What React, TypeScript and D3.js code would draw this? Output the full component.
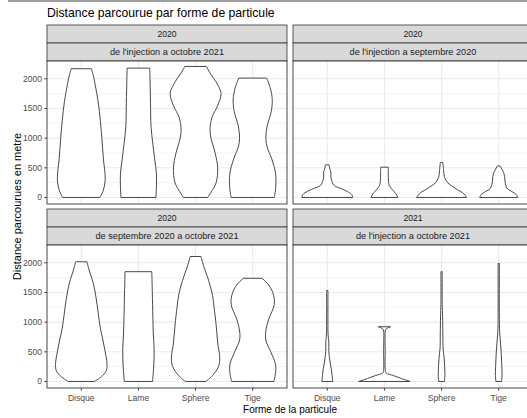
import React from "react";
import * as d3 from "d3";

const categories = ["Disque", "Lame", "Sphere", "Tige"];
const yTicks = [0, 500, 1000, 1500, 2000];
const yMinor = [250, 750, 1250, 1750];
const stripYear = ["2020", "2020", "2020", "2021"];
const stripPeriod = [
  "de l'injection a octobre 2021",
  "de l'injection a septembre 2020",
  "de septembre 2020 a octobre 2021",
  "de l'injection a octobre 2021",
];
const titleText = "Distance parcourue par forme de particule";
const xTitle = "Forme de la particule";
const yTitle = "Distance parcourues en metre";

// violin profiles: [distance, relative half-width]
// panel 1 : 2020, de l'injection a octobre 2021
const p1Disque = [[0, 0.72], [100, 0.84], [300, 0.93], [650, 0.86], [1000, 0.8], [1300, 0.74], [1600, 0.66], [1900, 0.54], [2050, 0.47], [2170, 0.39]];
const p1Lame = [[0, 0.68], [200, 0.7], [400, 0.7], [650, 0.63], [900, 0.56], [1200, 0.49], [1600, 0.47], [2000, 0.45], [2180, 0.44]];
const p1Sphere = [[0, 0.47], [100, 0.62], [250, 0.8], [500, 0.86], [750, 0.76], [1000, 0.6], [1150, 0.56], [1350, 0.64], [1550, 0.86], [1750, 0.99], [1900, 0.86], [2000, 0.72], [2100, 0.56], [2208, 0.42]];
const p1Tige = [[0, 0.84], [150, 0.89], [400, 0.89], [650, 0.74], [850, 0.56], [1000, 0.51], [1200, 0.56], [1450, 0.72], [1650, 0.76], [1850, 0.68], [2012, 0.54]];
// panel 2 : 2020, de l'injection a septembre 2020
const p2Disque = [[0, 0.99], [50, 0.95], [100, 0.78], [150, 0.54], [200, 0.27], [270, 0.18], [350, 0.14], [430, 0.14], [480, 0.1], [549, 0.07]];
const p2Lame = [[0, 0.52], [60, 0.45], [130, 0.31], [200, 0.19], [270, 0.16], [400, 0.15], [510, 0.15]];
const p2Sphere = [[0, 0.97], [40, 0.91], [80, 0.82], [130, 0.62], [180, 0.45], [250, 0.23], [350, 0.11], [450, 0.08], [588, 0.05]];
const p2Tige = [[0, 0.74], [50, 0.68], [100, 0.51], [150, 0.33], [250, 0.25], [350, 0.23], [420, 0.19], [480, 0.12], [532, 0.05]];
// panel 3 : 2020, de septembre 2020 a octobre 2021
const p3Disque = [[0, 0.51], [80, 0.78], [180, 0.97], [300, 1.0], [500, 0.93], [700, 0.84], [900, 0.74], [1150, 0.66], [1400, 0.58], [1650, 0.47], [1900, 0.29], [2017, 0.22]];
const p3Lame = [[0, 0.55], [300, 0.6], [550, 0.61], [800, 0.58], [1100, 0.56], [1500, 0.54], [1850, 0.52]];
const p3Sphere = [[0, 0.4], [100, 0.66], [250, 0.89], [400, 0.94], [650, 0.86], [950, 0.8], [1250, 0.72], [1450, 0.66], [1700, 0.51], [1950, 0.31], [2106, 0.21]];
const p3Tige = [[0, 0.82], [150, 0.89], [300, 0.88], [500, 0.7], [700, 0.51], [850, 0.51], [1050, 0.62], [1300, 0.84], [1500, 0.78], [1650, 0.58], [1739, 0.36]];
// panel 4 : 2021, de l'injection a octobre 2021
const p4Disque = [[0, 0.21], [100, 0.19], [200, 0.16], [300, 0.12], [420, 0.08], [500, 0.06], [650, 0.06], [800, 0.03], [1100, 0.025], [1533, 0.025]];
const p4Lame = [[0, 1.0], [50, 0.66], [100, 0.35], [145, 0.06], [200, 0.03], [500, 0.03], [850, 0.03], [880, 0.05], [900, 0.12], [922, 0.24]];
const p4Sphere = [[0, 0.11], [100, 0.13], [250, 0.12], [400, 0.1], [550, 0.06], [800, 0.05], [1100, 0.04], [1300, 0.025], [1850, 0.025]];
const p4Tige = [[0, 0.11], [100, 0.13], [250, 0.12], [450, 0.1], [700, 0.06], [800, 0.04], [1000, 0.025], [1989, 0.025]];

const panelViolins = [
  [p1Disque, p1Lame, p1Sphere, p1Tige],
  [p2Disque, p2Lame, p2Sphere, p2Tige],
  [p3Disque, p3Lame, p3Sphere, p3Tige],
  [p4Disque, p4Lame, p4Sphere, p4Tige],
];

const W = 527;
const H = 418;
const FONT = "'Liberation Sans', Arial, sans-serif";
const colX = [47, 293];
const panelW = 240;
const stripTop = [25, 209];
const stripH = 18;
const panelTop = [61, 245];
const panelH = 143;

export default function App() {
  const x = d3.scalePoint<string>().domain(categories).range([0, panelW]).padding(0.6);
  const step = x.step();
  const wScale = d3.scaleLinear().domain([0, 1]).range([0, 0.45 * step]);

  const panels = [0, 1, 2, 3].map((i) => {
    const col = i % 2;
    const row = Math.floor(i / 2);
    const left = colX[col];
    const top = panelTop[row];
    const y = d3.scaleLinear().domain([-110, 2300]).range([top + panelH, top]);
    return { i, col, row, left, top, y };
  });

  return (
    <svg
      width={W}
      height={H}
      style={{ position: "absolute", left: 0, top: 0, background: "#fff" }}
      fontFamily={FONT}
    >
      <rect x={0} y={0} width={W} height={H} fill="#fff" />
      <rect x={8} y={0} width={W - 8} height={2} fill="#a0a0a0" />
      <text x={47} y={16.5} fontSize={12.2} fill="#000">
        {titleText}
      </text>
      {panels.map(({ i, col, row, left, top, y }) => {
        const sTop = stripTop[row];
        const area = (center: number) =>
          d3
            .area<number[]>()
            .y((d) => y(d[0]))
            .x0((d) => center - wScale(d[1]))
            .x1((d) => center + wScale(d[1]))
            .curve(d3.curveCatmullRom.alpha(0.5));
        return (
          <g key={i}>
            {/* strips */}
            <rect x={left} y={sTop} width={panelW} height={stripH} fill="#d9d9d9" stroke="#333" strokeWidth={0.8} />
            <rect x={left} y={sTop + stripH} width={panelW} height={stripH} fill="#d9d9d9" stroke="#333" strokeWidth={0.8} />
            <text x={left + panelW / 2} y={sTop + stripH / 2 + 3.2} fontSize={8.6} textAnchor="middle" fill="#1a1a1a">
              {stripYear[i]}
            </text>
            <text x={left + panelW / 2} y={sTop + stripH * 1.5 + 3.2} fontSize={9.2} textAnchor="middle" fill="#1a1a1a">
              {stripPeriod[i]}
            </text>
            {/* panel */}
            <rect x={left} y={top} width={panelW} height={panelH} fill="#fff" />
            {yMinor.map((v) => (
              <line key={"mi" + v} x1={left} x2={left + panelW} y1={y(v)} y2={y(v)} stroke="#ebebeb" strokeWidth={0.6} />
            ))}
            {yTicks.map((v) => (
              <line key={"ma" + v} x1={left} x2={left + panelW} y1={y(v)} y2={y(v)} stroke="#ebebeb" strokeWidth={1.1} />
            ))}
            {categories.map((c) => (
              <line key={"v" + c} x1={left + (x(c) ?? 0)} x2={left + (x(c) ?? 0)} y1={top} y2={top + panelH} stroke="#ebebeb" strokeWidth={1.1} />
            ))}
            {panelViolins[i].map((prof, k) => {
              const cx = left + (x(categories[k]) ?? 0);
              return (
                <path key={"vi" + k} d={area(cx)(prof as number[][]) ?? ""} fill="#fff" stroke="#333" strokeWidth={0.9} />
              );
            })}
            <rect x={left} y={top} width={panelW} height={panelH} fill="none" stroke="#333" strokeWidth={0.9} />
            {/* y axis */}
            {col === 0 &&
              yTicks.map((v) => (
                <g key={"yt" + v}>
                  <line x1={left - 2.7} x2={left} y1={y(v)} y2={y(v)} stroke="#333" strokeWidth={0.9} />
                  <text x={left - 5} y={y(v) + 3} fontSize={8.6} textAnchor="end" fill="#4d4d4d">
                    {v}
                  </text>
                </g>
              ))}
            {/* x axis */}
            {row === 1 &&
              categories.map((c) => (
                <g key={"xt" + c}>
                  <line x1={left + (x(c) ?? 0)} x2={left + (x(c) ?? 0)} y1={top + panelH} y2={top + panelH + 2.7} stroke="#333" strokeWidth={0.9} />
                  <text x={left + (x(c) ?? 0)} y={top + panelH + 12.5} fontSize={8.6} textAnchor="middle" fill="#4d4d4d">
                    {c}
                  </text>
                </g>
              ))}
          </g>
        );
      })}
      <text x={colX[0] + (colX[1] + panelW - colX[0]) / 2} y={413} fontSize={10} textAnchor="middle" fill="#000">
        {xTitle}
      </text>
      <text
        transform={`translate(20.5, ${(stripTop[0] + panelTop[1] + panelH) / 2}) rotate(-90)`}
        fontSize={11}
        textAnchor="middle"
        fill="#000"
      >
        {yTitle}
      </text>
    </svg>
  );
}
